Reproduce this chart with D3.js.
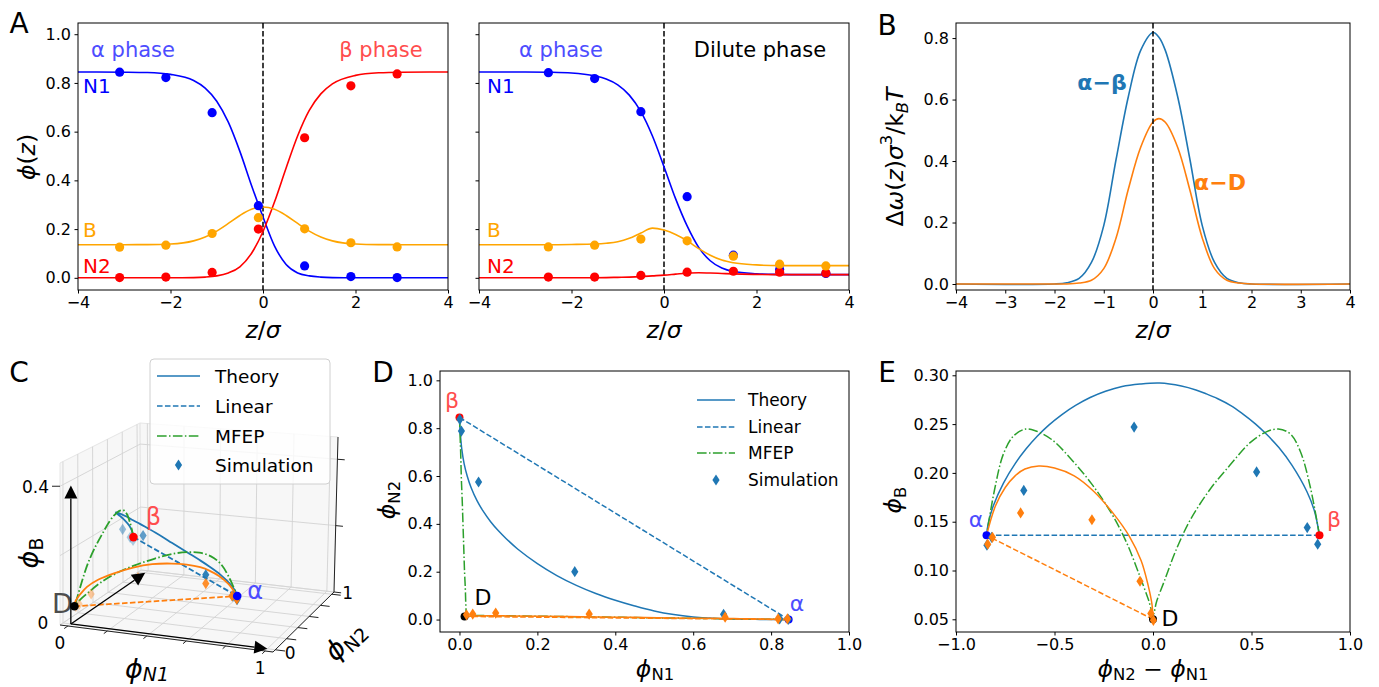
<!DOCTYPE html>
<html><head><meta charset="utf-8">
<script src="https://cdn.jsdelivr.net/npm/d3@7/dist/d3.min.js"></script>
<style>
html,body{margin:0;padding:0;background:#fff;}
svg{display:block;font-family:"DejaVu Sans",sans-serif;}
</style></head><body>
<svg id="fig" width="1379" height="687"></svg>
<script>
// ================= DATA =================
// Panel A : theory profiles on a z/sigma grid
const zGrid = [-4,-3,-2.5,-2,-1.5,-1.25,-1,-0.75,-0.5,-0.25,0,0.25,0.5,0.75,1,1.25,1.5,2,2.5,3,4];
const n1TheoryAB = [0.845,0.844,0.8425,0.835,0.81,0.779,0.725,0.639,0.519,0.38,0.25,0.13,0.055,0.02,0.008,0.003,0.001,0,0,0,0];
const n2TheoryAB = [0,0,0,0,0.001,0.003,0.008,0.02,0.045,0.1,0.19,0.312,0.451,0.583,0.687,0.755,0.796,0.831,0.8415,0.844,0.845];
const bTheoryAB  = [0.136,0.136,0.1363,0.1386,0.1516,0.1675,0.1918,0.2233,0.256,0.2814,0.291,0.2814,0.256,0.2233,0.1918,0.1675,0.1516,0.1386,0.1363,0.136,0.136];
const n1TheoryAD = [0.845,0.845,0.844,0.841,0.829,0.816,0.792,0.75,0.682,0.582,0.456,0.325,0.213,0.125,0.07,0.04,0.026,0.017,0.014,0.013,0.013];
const n2TheoryAD = [0,0,0,0,0.0005,0.001,0.002,0.003,0.005,0.008,0.011,0.015,0.019,0.021,0.02,0.018,0.016,0.014,0.013,0.013,0.013];
const bTheoryAD  = [0.136,0.136,0.136,0.137,0.139,0.142,0.148,0.162,0.184,0.204,0.196,0.178,0.152,0.12,0.093,0.073,0.062,0.053,0.05,0.05,0.05];
// Panel A : simulation points
const zDotsAB  = [-3.1,-2.1,-1.1,-0.1,0.9,1.9,2.9];
const n1DotsAB = [0.844,0.822,0.678,0.296,0.049,0.005,0.001];
const n2DotsAB = [0.001,0.003,0.022,0.200,0.575,0.788,0.837];
const bDotsAB  = [0.126,0.134,0.182,0.247,0.201,0.144,0.127];
const zDotsAD  = [-2.5,-1.5,-0.5,0.5,1.5,2.5,3.5];
const n1DotsAD = [0.842,0.818,0.682,0.333,0.093,0.034,0.018];
const n2DotsAD = [0.003,0.003,0.010,0.023,0.027,0.023,0.020];
const bDotsAD  = [0.127,0.134,0.159,0.152,0.089,0.056,0.049];
// Panel B : excess grand potential density
const zOmega  = [-4,-2,-1.75,-1.5,-1.25,-1,-0.75,-0.5,-0.25,0,0.12,0.25,0.5,0.75,1,1.25,1.5,1.75,2,4];
const omegaAB = [0,0,0.004,0.018,0.07,0.19,0.405,0.61,0.76,0.818,0.803,0.76,0.61,0.405,0.19,0.07,0.018,0.004,0,0];
const omegaAD = [0,0,0,0.003,0.012,0.05,0.15,0.309,0.445,0.527,0.538,0.526,0.445,0.305,0.15,0.05,0.012,0.003,0,0];
// Phase points [phiN1, phiN2, phiB]
const alphaPt   = [0.845, 0.0, 0.136];
const betaPt    = [0.0, 0.845, 0.136];
const dilutePt  = [0.013, 0.013, 0.05];
// Paths in composition space [phiN1, phiN2, phiB]
const theoryPathAB = [[0,0.845,0.136],[0.0005,0.82,0.161],[0.002,0.783,0.181],[0.006,0.711,0.208],[0.012,0.651,0.226],[0.02,0.599,0.239],[0.03,0.551,0.250],[0.045,0.497,0.261],[0.06,0.455,0.269],[0.08,0.409,0.276],[0.1,0.371,0.281],[0.12,0.338,0.285],[0.15,0.294,0.289],[0.2,0.234,0.292],[0.25,0.184,0.291],[0.3,0.143,0.2885],[0.35,0.109,0.2836],[0.4,0.081,0.2772],[0.45,0.057,0.2691],[0.5,0.036,0.2595],[0.55,0.021,0.2489],[0.6,0.011,0.2372],[0.65,0.005,0.2244],[0.7,0.002,0.210],[0.76,0.001,0.1896],[0.81,0,0.1665],[0.835,0,0.1496],[0.845,0,0.136]];
const mfepPathAB = [[0,0.845,0.136],[0.001,0.80,0.185],[0.002,0.75,0.222],[0.003,0.70,0.240],[0.004,0.64,0.245],[0.005,0.58,0.242],[0.007,0.50,0.231],[0.009,0.40,0.208],[0.011,0.30,0.183],[0.013,0.20,0.151],[0.015,0.13,0.120],[0.016,0.075,0.090],[0.017,0.035,0.068],[0.017,0.018,0.055],[0.04,0.017,0.070],[0.09,0.016,0.098],[0.15,0.015,0.129],[0.22,0.0136,0.157],[0.32,0.0114,0.188],[0.42,0.0092,0.213],[0.52,0.007,0.234],[0.60,0.0053,0.243],[0.65,0.0042,0.245],[0.71,0.0029,0.238],[0.76,0.0018,0.220],[0.805,0.0009,0.183],[0.845,0,0.136]];
const theoryPathAD = [[0.013,0.013,0.05],[0.018,0.013,0.065],[0.04,0.015,0.085],[0.076,0.016,0.11],[0.135,0.015,0.135],[0.214,0.014,0.158],[0.312,0.012,0.181],[0.41,0.01,0.197],[0.508,0.008,0.205],[0.586,0.006,0.207],[0.655,0.005,0.204],[0.704,0.004,0.197],[0.753,0.003,0.185],[0.801,0.001,0.166],[0.845,0,0.136]];
const linearPathAB = [betaPt, alphaPt];
const linearPathAD = [dilutePt, alphaPt];
// tick values
const ticksAx = [-4,-2,0,2,4], ticksAy = [0,0.2,0.4,0.6,0.8,1.0];
const ticksBx = [-4,-3,-2,-1,0,1,2,3,4], ticksBy = [0,0.2,0.4,0.6,0.8];
const ticksDx = [0,0.2,0.4,0.6,0.8,1.0], ticksDy = [0,0.2,0.4,0.6,0.8,1.0];
const ticksEx = [-1,-0.5,0,0.5,1], ticksEy = [0.05,0.10,0.15,0.20,0.25,0.30];
const grid3N1 = [0,0.2,0.4,0.6,0.8,1.0], grid3N2 = [0,0.2,0.4,0.6,0.8,1.0], grid3B = [0,0.2,0.4];

// ================= STYLE / LAYOUT =================
const FONT = "DejaVu Sans";
const C_BLUE="#1f77b4", C_ORANGE="#ff7f0e", C_GREEN="#2ca02c";
const DASH="5.55,2.4", DASHDOT="9.6,2.4,1.5,2.4";
const svg = d3.select("#fig");

function mtext(g, x, y, parts, o){
  const fs=o.size;
  const t=g.append("text").attr("x",x).attr("y",y).attr("font-size",fs)
    .attr("text-anchor",o.anchor||"middle").attr("dominant-baseline","central")
    .attr("fill",o.color||"#000").attr("font-family",FONT);
  if(o.rotate!=null) t.attr("transform",`rotate(${o.rotate},${x},${y})`);
  if(o.bold) t.attr("font-weight","bold");
  let shift=0;
  parts.forEach(p=>{
    const s=p.sub?fs*(o.subShift||0.3):(p.sup?-fs*0.38:0);
    const ts=t.append("tspan").text(p.t).attr("dy",s-shift);
    shift=s;
    if(p.sub||p.sup) ts.attr("font-size",fs*0.7);
    if(p.it) ts.attr("font-style","italic");
  });
  return t;
}
function panel(box,xd,yd){
  return {box, x:d3.scaleLinear().domain(xd).range([box.l,box.r]),
               y:d3.scaleLinear().domain(yd).range([box.b,box.t]), g:svg.append("g")};
}
function axes(p,xt,yt,xf,yf,ylab=true){
  const gx=svg.append("g").attr("transform",`translate(0,${p.box.b})`)
    .call(d3.axisBottom(p.x).tickValues(xt).tickFormat(d3.format(xf)).tickSizeInner(3.5).tickSizeOuter(0).tickPadding(3.5));
  const gy=svg.append("g").attr("transform",`translate(${p.box.l},0)`)
    .call(d3.axisLeft(p.y).tickValues(yt).tickFormat(ylab?d3.format(yf):()=>"").tickSizeInner(3.5).tickSizeOuter(0).tickPadding(3.5));
  [gx,gy].forEach(g=>{g.select(".domain").remove(); g.attr("font-family",FONT).attr("font-size",16);
    g.selectAll("text").attr("fill","#000"); g.selectAll("line").attr("stroke","#000");});
  svg.append("rect").attr("x",p.box.l).attr("y",p.box.t).attr("width",p.box.r-p.box.l)
    .attr("height",p.box.b-p.box.t).attr("fill","none").attr("stroke","#000").attr("stroke-width",1);
}
const diamond=(s=1)=>`M0,${-5.6*s}L${3.6*s},0L0,${5.6*s}L${-3.6*s},0Z`;
const label=(x,y,t,o)=>mtext(svg,x,y,[{t}],o);

// ================= PANEL A =================
function profilePanel(box, curves, dots, zDots){
  const p=panel(box,[-4,4],[-0.05,1.046]);
  const ln=d3.line().x((d,i)=>p.x(zGrid[i])).y(d=>p.y(d)).curve(d3.curveMonotoneX);
  p.g.append("line").attr("x1",p.x(0)).attr("x2",p.x(0)).attr("y1",box.t).attr("y2",box.b)
    .attr("stroke","#000").attr("stroke-width",1.5).attr("stroke-dasharray",DASH);
  curves.forEach(c=>p.g.append("path").attr("d",ln(c.v)).attr("fill","none").attr("stroke",c.col).attr("stroke-width",1.6));
  dots.forEach(c=>p.g.selectAll(null).data(c.v).join("circle").attr("cx",(d,i)=>p.x(zDots[i])).attr("cy",d=>p.y(d))
    .attr("r",4.6).attr("fill",c.col));
  return p;
}
const pA1=profilePanel({l:78,r:448,t:23,b:290},
  [{v:n1TheoryAB,col:"#0000ff"},{v:n2TheoryAB,col:"#ff0000"},{v:bTheoryAB,col:"#ffa500"}],
  [{v:n1DotsAB,col:"#0000ff"},{v:n2DotsAB,col:"#ff0000"},{v:bDotsAB,col:"#ffa500"}], zDotsAB);
axes(pA1,ticksAx,ticksAy,"d",".1f");
const pA2=profilePanel({l:479,r:849,t:23,b:290},
  [{v:n1TheoryAD,col:"#0000ff"},{v:n2TheoryAD,col:"#ff0000"},{v:bTheoryAD,col:"#ffa500"}],
  [{v:n1DotsAD,col:"#0000ff"},{v:n2DotsAD,col:"#ff0000"},{v:bDotsAD,col:"#ffa500"}], zDotsAD);
axes(pA2,ticksAx,ticksAy,"d",".1f",false);

label(133,50,"α phase",{size:21,color:"#4d4dff"});
label(381,50,"β phase",{size:21,color:"#ff4d4d"});
label(561,50,"α phase",{size:21,color:"#4d4dff"});
label(760,50,"Dilute phase",{size:21,color:"#000"});
[[83],[487]].forEach(([x])=>{
  label(x,86,"N1",{size:20,color:"#0000ff",anchor:"start"});
  label(x,230,"B",{size:20,color:"#ffa500",anchor:"start"});
  label(x,266,"N2",{size:20,color:"#ff0000",anchor:"start"});
});
const zsig=[{t:"z",it:1},{t:"/"},{t:"σ",it:1}];
mtext(svg,263,330,zsig,{size:23.5});
mtext(svg,664,330,zsig,{size:23.5});
mtext(svg,27,157,[{t:"ϕ",it:1},{t:"("},{t:"z",it:1},{t:")"}],{size:23.5,rotate:-90});
label(19,23,"A",{size:28});

// ================= PANEL B =================
const pB=panel({l:956,r:1350,t:23,b:290},[-4,4],[-0.0195,0.849]);
{
  const ln=d3.line().x((d,i)=>pB.x(zOmega[i])).y(d=>pB.y(d)).curve(d3.curveCatmullRom.alpha(0.5));
  pB.g.append("path").attr("d",ln(omegaAB)).attr("fill","none").attr("stroke",C_BLUE).attr("stroke-width",1.6);
  pB.g.append("path").attr("d",ln(omegaAD)).attr("fill","none").attr("stroke",C_ORANGE).attr("stroke-width",1.6);
  pB.g.append("line").attr("x1",pB.x(0)).attr("x2",pB.x(0)).attr("y1",23).attr("y2",290)
    .attr("stroke","#000").attr("stroke-width",1.5).attr("stroke-dasharray",DASH);
}
axes(pB,ticksBx,ticksBy,"d",".1f");
label(1102,82,"α−β",{size:22,color:C_BLUE,bold:true});
label(1220,182,"α−D",{size:22,color:C_ORANGE,bold:true});
mtext(svg,1153,330,zsig,{size:23.5});
mtext(svg,895,157,[{t:"Δ"},{t:"ω",it:1},{t:"("},{t:"z",it:1},{t:")"},{t:"σ",it:1},{t:"3",sup:1},{t:"/"},{t:"k"},{t:"B",sub:1,it:1},{t:"T",it:1}],{size:23.5,rotate:-90});
label(887,25,"B",{size:28});

// ================= PANEL D =================
const pD=panel({l:440,r:849,t:371,b:632},[-0.05,1.0],[-0.052,1.039]);
const pE=panel({l:956,r:1350,t:371,b:632},[-1,1],[0.037,0.3044]);
const crv=d3.curveCatmullRom.alpha(0.5);
function drawPaths(p, fx, fy){
  const ln=d3.line().x(d=>p.x(fx(d))).y(d=>p.y(fy(d))).curve(crv);
  const add=(data,col,dash)=>p.g.append("path").attr("d",ln(data)).attr("fill","none").attr("stroke",col)
      .attr("stroke-width",1.5).attr("stroke-dasharray",dash||null);
  add(theoryPathAB,C_BLUE); add(linearPathAB,C_BLUE,DASH); add(mfepPathAB,C_GREEN,DASHDOT);
  add(theoryPathAD,C_ORANGE); add(linearPathAD,C_ORANGE,DASH);
  [[alphaPt,"#0000ff"],[betaPt,"#ff0000"],[dilutePt,"#000"]].forEach(([q,c])=>
    p.g.append("circle").attr("cx",p.x(fx(q))).attr("cy",p.y(fy(q))).attr("r",4).attr("fill",c));
  const sims=(n1,n2,b,col)=>p.g.selectAll(null).data(n1.map((v,i)=>[v,n2[i],b[i]])).join("path")
      .attr("d",diamond()).attr("fill",col).attr("transform",d=>`translate(${p.x(fx(d))},${p.y(fy(d))})`);
  sims(n1DotsAB,n2DotsAB,bDotsAB,C_BLUE);
  sims(n1DotsAD,n2DotsAD,bDotsAD,C_ORANGE);
}
drawPaths(pD,d=>d[0],d=>d[1]);
axes(pD,ticksDx,ticksDy,".1f",".1f");
label(452,400,"β",{size:22,color:"#ff4d4d"});
label(483,597,"D",{size:22,color:"#000"});
label(797,603,"α",{size:22,color:"#4d4dff"});
mtext(svg,655,669,[{t:"ϕ",it:1},{t:"N1",sub:1}],{size:23.5,subShift:0.22});
mtext(svg,387,500,[{t:"ϕ",it:1},{t:"N2",sub:1}],{size:23.5,rotate:-90});
label(383,372,"D",{size:28});
// legend D
function legend(g,x0,x1,xt,ys,fs){
  const items=[{n:"Theory",c:C_BLUE},{n:"Linear",c:C_BLUE,d:DASH},{n:"MFEP",c:C_GREEN,d:DASHDOT},{n:"Simulation",c:C_BLUE,m:1}];
  items.forEach((it,i)=>{
    if(it.m) g.append("path").attr("d",diamond()).attr("fill",it.c).attr("transform",`translate(${(x0+x1)/2},${ys[i]})`);
    else g.append("line").attr("x1",x0).attr("x2",x1).attr("y1",ys[i]).attr("y2",ys[i]).attr("stroke",it.c)
      .attr("stroke-width",1.5).attr("stroke-dasharray",it.d||null);
    mtext(g,xt,ys[i],[{t:it.n}],{size:fs,anchor:"start"});
  });
}
legend(svg,697,735,748,[400,427,453,480],17);

// ================= PANEL E =================
drawPaths(pE,d=>d[1]-d[0],d=>d[2]);
axes(pE,ticksEx,ticksEy,".1f",".2f");
label(976,519,"α",{size:22,color:"#4d4dff"});
label(1334,519,"β",{size:22,color:"#ff4d4d"});
label(1170,618,"D",{size:22,color:"#000"});
mtext(svg,1153,669,[{t:"ϕ",it:1},{t:"N2",sub:1},{t:" − "},{t:"ϕ",it:1},{t:"N1",sub:1}],{size:23.5,subShift:0.22});
mtext(svg,893,500,[{t:"ϕ",it:1},{t:"B",sub:1}],{size:23.5,rotate:-90});
label(887,372,"E",{size:28});

// ================= PANEL C (3D) =================
const box3N1=[-0.04,1.04], box3N2=[-0.04,1.04], box3B=[0,0.467];
// screen anchors of the 3D box corners (key = n1,n2,b index)
const K={"000":[60,625],"100":[273,652],"010":[141,570],"110":[334,592],
         "001":[60,463],"101":[274,482],"011":[140,423],"111":[338,437]};
const su=d3.scaleLinear().domain(box3N1).range([0,1]);
const sv=d3.scaleLinear().domain(box3N2).range([0,1]);
const sw=d3.scaleLinear().domain(box3B).range([0,1]);
const L=(p,q,t)=>[p[0]+(q[0]-p[0])*t,p[1]+(q[1]-p[1])*t];
function P3(n1,n2,b){
  const u=su(n1),v=sv(n2),w=sw(b);
  const f0=L(L(K["000"],K["100"],u),L(K["010"],K["110"],u),v);
  const f1=L(L(K["001"],K["101"],u),L(K["011"],K["111"],u),v);
  return L(f0,f1,w);
}
const gC=svg.append("g");
const [a0,a1]=box3N1,[b0,b1]=box3N2,[c0,c1]=box3B;
const poly=pts=>pts.map(p=>P3(...p).join(",")).join(" ");
[[[a0,b0,c0],[a1,b0,c0],[a1,b1,c0],[a0,b1,c0]],
 [[a0,b0,c0],[a0,b1,c0],[a0,b1,c1],[a0,b0,c1]],
 [[a0,b1,c0],[a1,b1,c0],[a1,b1,c1],[a0,b1,c1]]].forEach(f=>
  gC.append("polygon").attr("points",poly(f)).attr("fill","#f2f2f2").attr("fill-opacity",0.6).attr("stroke","#e6e6e6").attr("stroke-width",1));
const seg=(p,q,col,w)=>{const A=P3(...p),B=P3(...q);
  gC.append("line").attr("x1",A[0]).attr("y1",A[1]).attr("x2",B[0]).attr("y2",B[1]).attr("stroke",col).attr("stroke-width",w);};
const GC="#d2d2d2";
grid3N1.forEach(t=>{seg([t,b0,c0],[t,b1,c0],GC,0.9); seg([t,b1,c0],[t,b1,c1],GC,0.9);});
grid3N2.forEach(t=>{seg([a0,t,c0],[a1,t,c0],GC,0.9); seg([a0,t,c0],[a0,t,c1],GC,0.9);});
grid3B.forEach(t=>{seg([a0,b1,t],[a1,b1,t],GC,0.9); seg([a0,b0,t],[a0,b1,t],GC,0.9);});
// axis lines and ticks
seg([a0,b0,c0],[a1,b0,c0],"#222",1);
seg([a1,b0,c0],[a1,b1,c0],"#222",1);
seg([a1,b1,c0],[a1,b1,c1],"#222",1);
grid3N1.forEach(t=>seg([t,b0,c0],[t,b0-0.05,c0],"#222",1));
grid3N2.forEach(t=>seg([a1,t,c0],[a1+0.05,t,c0],"#222",1));
grid3B.forEach(t=>seg([a1,b1,t],[a1+0.04,b1,t],"#222",1));
{ const q=P3(a0,b0,0.4); gC.append("line").attr("x1",q[0]-8).attr("x2",q[0]).attr("y1",q[1]).attr("y2",q[1]).attr("stroke","#222"); }
// tick labels
const tl=(p,dx,dy,t,anchor)=>{const q=P3(...p); mtext(gC,q[0]+dx,q[1]+dy,[{t}],{size:17,anchor:anchor||"middle"});};
tl([0,b0,c0],-8,17,"0"); tl([1,b0,c0],-5,17,"1");
tl([a1,0,c0],15,3,"0"); tl([a1,1,c0],16,-1,"1");
tl([a0,b0,0],-17,-2,"0"); tl([a0,b0,0.4],-11,1,"0.4","end");
// data
const ln3=d3.line().curve(crv);
const add3=(data,col,dash)=>gC.append("path").attr("d",ln3(data.map(d=>P3(...d)))).attr("fill","none")
  .attr("stroke",col).attr("stroke-width",1.8).attr("stroke-dasharray",dash||null);
add3(theoryPathAB,C_BLUE); add3(linearPathAB,C_BLUE,DASH); add3(mfepPathAB,C_GREEN,DASHDOT);
add3(theoryPathAD,C_ORANGE); add3(linearPathAD,C_ORANGE,DASH);
{ const q=P3(...dilutePt); mtext(gC,q[0]-12,q[1]-3,[{t:"D"}],{size:27,color:"#4d4d4d"}); }
function sims3(n1,n2,b,col){
  const pts=n1.map((v,i)=>[v,n2[i],b[i]]);
  const dep=pts.map(d=>d[1]-d[0]); const mn=d3.min(dep), mx=d3.max(dep);
  gC.selectAll(null).data(pts).join("path").attr("d",diamond()).attr("fill",col)
    .attr("fill-opacity",(d,i)=>1-0.65*(dep[i]-mn)/(mx-mn))
    .attr("transform",d=>{const q=P3(...d); return `translate(${q[0]},${q[1]})`;});
}
sims3(n1DotsAB,n2DotsAB,bDotsAB,C_BLUE);
sims3(n1DotsAD,n2DotsAD,bDotsAD,C_ORANGE);
[[alphaPt,"#0000ff"],[betaPt,"#ff0000"],[dilutePt,"#000"]].forEach(([q,c])=>{
  const s=P3(...q); gC.append("circle").attr("cx",s[0]).attr("cy",s[1]).attr("r",4.3).attr("fill",c);});
// arrows
function arrow3(p,q){
  const A=P3(...p),B=P3(...q); const dx=B[0]-A[0],dy=B[1]-A[1],len=Math.hypot(dx,dy);
  const ux=dx/len,uy=dy/len, hl=13, hw=6.5;
  const bx=B[0]-ux*hl, by=B[1]-uy*hl;
  gC.append("line").attr("x1",A[0]).attr("y1",A[1]).attr("x2",bx).attr("y2",by).attr("stroke","#000").attr("stroke-width",1.3);
  gC.append("polygon").attr("points",`${B[0]},${B[1]} ${bx-uy*hw},${by+ux*hw} ${bx+uy*hw},${by-ux*hw}`).attr("fill","#000");
}
arrow3([0,0,0],[1,0,0]); arrow3([0,0,0],[0,1,0]); arrow3([0,0,0],[0,0,0.4]);
{ const q=P3(...betaPt); mtext(gC,q[0]+20,q[1]-20,[{t:"β"}],{size:24,color:"#ff4d4d"});
  const r=P3(...alphaPt); mtext(gC,r[0]+18,r[1]-5,[{t:"α"}],{size:24,color:"#4d4dff"}); }
mtext(svg,28,553,[{t:"ϕ",it:1},{t:"B",sub:1}],{size:27,rotate:-90});
mtext(svg,147,668,[{t:"ϕ",it:1},{t:"N1",sub:1,it:1}],{size:27,subShift:0.22});
mtext(svg,344,640,[{t:"ϕ",it:1},{t:"N2",sub:1}],{size:27,rotate:-44});
label(19,372,"C",{size:28});
// legend C
svg.append("rect").attr("x",150).attr("y",359).attr("width",180).attr("height",125).attr("rx",4)
  .attr("fill","#fff").attr("fill-opacity",0.8).attr("stroke","#d0d0d0");
legend(svg,157,200,215,[376,406,436,465],18.5);
</script>
</body></html>
